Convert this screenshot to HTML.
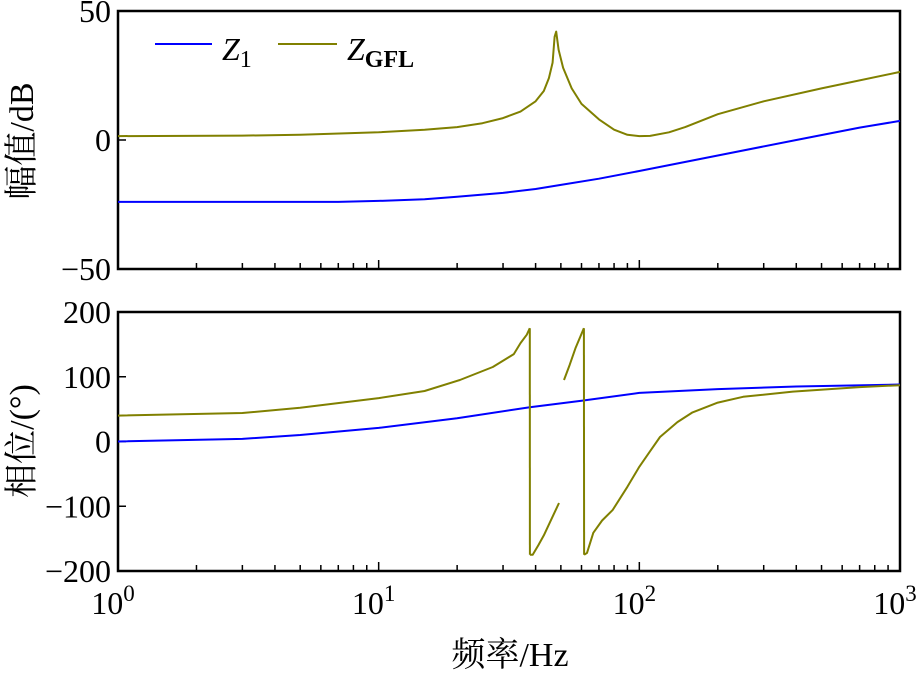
<!DOCTYPE html>
<html><head><meta charset="utf-8">
<style>
body{margin:0;background:#fff;}
svg text{font-family:"Liberation Serif","Noto Serif CJK SC",serif;fill:#000;}
</style></head>
<body>
<svg id="chart" width="922" height="673" viewBox="0 0 922 673" xmlns="http://www.w3.org/2000/svg"></svg>
<script>
const magFreqZ1 = [1,3,7,10,15,20,30,40,50,70,100,200,400,700,1000];
const magZ1 = [-24,-24,-24,-23.6,-23,-22,-20.5,-19,-17.4,-15,-12,-6,0,4.8,7.4];
const magFreqGFL = [1,3,5,10,15,20,25,30,35,40,43,45,46.5,47.3,48,49,51,55,60,70,80,90,100,110,130,150,200,300,500,1000];
const magGFL = [1.5,1.7,2,3,4,5,6.5,8.5,11,15,19,24,30,40,42,35,28,20,14,8,4,2,1.5,1.6,3,5,10,15,20,26.4];
const phFreqZ1 = [1,3,5,10,20,38,60,100,200,400,1000];
const phZ1 = [0,4,10,21,36,53,63,75,81,85,88];
const phFreqGFL1 = [1,3,5,10,15,20.5,27.4,33,35,37,38];
const phGFL1 = [40,44,52,67,78,95,115,135,152,165,175];
const phFreqGFL2 = [38.05,39,41,43,46,49.2];
const phGFL2 = [-175,-175,-160,-145,-120,-95];
const phFreqGFL3 = [51.4,54,57,61.3];
const phGFL3 = [95,118,145,175];
const phFreqGFL4 = [61.4,63,66.6,72,79,90,100,110,120,140,160,200,250,388,700,1000];
const phGFL4 = [-175,-172,-141,-122,-106,-70,-39,-15,7,30,45,60,69,77,84,87];

const X0=118,X1=900;
const fx=f=>X0+(Math.log10(f))*(X1-X0)/3;
const T={top:11,bot:269,max:50,min:-50};
const B={top:312,bot:571,max:200,min:-200};
const fy=(p,v)=>p.top+(p.max-v)*(p.bot-p.top)/(p.max-p.min);
const svg=document.getElementById('chart');
const NS='http://www.w3.org/2000/svg';
function mk(tag,attrs,parent){const e=document.createElementNS(NS,tag);for(const k in attrs)e.setAttribute(k,attrs[k]);(parent||svg).appendChild(e);return e;}
function line(fs,vs,p,color,name){
  const d=fs.map((f,i)=>(i?'L':'M')+fx(f).toFixed(1)+' '+fy(p,vs[i]).toFixed(1)).join(' ');
  const e=mk('path',{d:d,fill:'none',stroke:color,'stroke-width':2,'stroke-linejoin':'round'});
  
  
}
function text(x,y,s,attrs,name){const t=mk('text',Object.assign({x:x,y:y},attrs||{}));t.textContent=s;
  
  return t;}

function axes(p,yticks,name){
  const r=mk('rect',{x:X0,y:p.top,width:X1-X0,height:p.bot-p.top,fill:'none',stroke:'#000','stroke-width':2.5});
  
  
  for(let dec=0;dec<3;dec++)for(let m=1;m<=9;m++){
    const f=Math.pow(10,dec)*m;if(f>1000)break;
    const x=fx(f),len=m===1?9:6;
    const t=mk('line',{x1:x,x2:x,y1:p.bot,y2:p.bot-len,stroke:'#000','stroke-width':1.5});
    
    
  }
  yticks.forEach(v=>{
    const y=fy(p,v);
    const t=mk('line',{x1:X0,x2:X0+8,y1:y,y2:y,stroke:'#000','stroke-width':1.5});
    
    
    text(111,y+11,(v<0?'\u2212':'')+Math.abs(v),{'font-size':32,'text-anchor':'end'},name+'-y-tick-label');
  });
}
axes(T,[50,0,-50],'magnitude');
axes(B,[200,100,0,-100,-200],'phase');

line(magFreqZ1,magZ1,T,'#0000ff','z1-magnitude-line');
line(magFreqGFL,magGFL,T,'#808000','zgfl-magnitude-line');
line(phFreqZ1,phZ1,B,'#0000ff','z1-phase-line');
line(phFreqGFL1,phGFL1,B,'#808000','zgfl-phase-seg1');
line([38,38.05],[175,-175],B,'#808000','zgfl-phase-jump1');
line(phFreqGFL2,phGFL2,B,'#808000','zgfl-phase-seg2');
line(phFreqGFL3,phGFL3,B,'#808000','zgfl-phase-seg3');
line([61.3,61.4],[175,-175],B,'#808000','zgfl-phase-jump2');
line(phFreqGFL4,phGFL4,B,'#808000','zgfl-phase-seg4');

[0,1,2,3].forEach(e=>{
  const x=fx(Math.pow(10,e));
  const t=mk('text',{x:x-5,y:614,'font-size':32,'text-anchor':'middle'});
  
  
  t.textContent='10';
  const s=mk('tspan',{dy:-13,'font-size':23},t);s.textContent=e;
});
text(510,666,'频率/Hz',{'font-size':34,'text-anchor':'middle'},'x-axis-title');
text(0,0,'幅值/dB',{'font-size':34,'text-anchor':'middle',transform:'translate(33,141) rotate(-90)'},'magnitude-y-axis-title');
text(0,0,'相位/(°)',{'font-size':34,'text-anchor':'middle',transform:'translate(33,441) rotate(-90)'},'phase-y-axis-title');

const l1=mk('line',{x1:155,x2:212,y1:44,y2:44,stroke:'#0000ff','stroke-width':2});


const t1=text(222,60,'Z',{'font-size':32,'font-style':'italic'},'legend-z1-label');
const s1=mk('tspan',{dy:7,'font-size':24,'font-style':'normal'},t1);s1.textContent='1';
const l2=mk('line',{x1:278,x2:337,y1:44,y2:44,stroke:'#808000','stroke-width':2});


const t2=text(347,60,'Z',{'font-size':32,'font-style':'italic'},'legend-zgfl-label');
const s2=mk('tspan',{dy:7,'font-size':24,'font-style':'normal','font-weight':'bold'},t2);s2.textContent='GFL';
</script>
</body></html>
